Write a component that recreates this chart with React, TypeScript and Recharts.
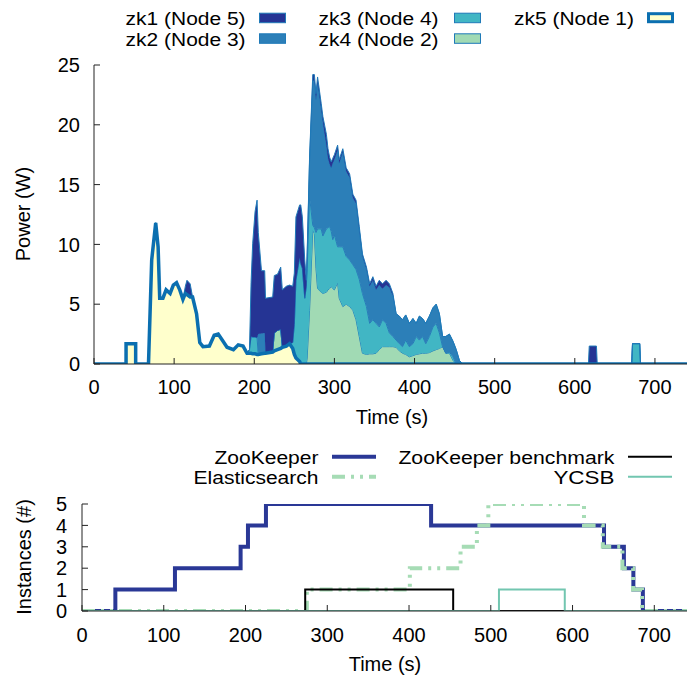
import React from 'react';
import { ComposedChart, Area, Line, LineChart, XAxis, YAxis, Legend } from 'recharts';

const FONT = '"Liberation Sans", Arial, Helvetica, sans-serif';

// ---------- Top panel: power per ZooKeeper node (stacked) ----------
const timeTicks = [0, 100, 200, 300, 400, 500, 600, 700];
const powerTicks = [0, 5, 10, 15, 20, 25];

const powerTime = [
  0, 40, 40, 52, 52, 68, 72, 77, 80, 82,
  86, 90, 95, 99, 103, 107, 111, 114, 116, 120,
  123, 128, 132, 136, 144, 150, 155, 160, 166, 174,
  180, 186, 191, 194, 196, 198, 201, 203.5, 205, 209,
  213, 214, 223, 225, 229, 233, 235, 240, 244, 248,
  250, 252, 256.6, 258, 260, 263, 265, 266, 269, 273,
  275, 277, 279, 283.5, 285.6, 290, 292, 294, 296, 298,
  300, 304, 306, 310.5, 314.7, 319, 323, 327, 331, 335,
  340, 344, 348, 352, 356, 360, 364.5, 368.6, 373, 377,
  381, 385, 389, 393.5, 398, 402, 406, 410, 414, 418.5,
  423, 427, 431, 435, 439, 443.5, 448, 452, 456, 460,
  617, 618, 627, 628, 671, 672, 681, 682, 740,
];

const zk5Power = [
  0, 0, 1.7, 1.7, 0, 0, 8.7, 11.8, 9.8, 5.5,
  5.5, 6.2, 5.9, 6.6, 6.8, 6.2, 5.4, 5.9, 5.8, 5.6,
  5.6, 4.2, 1.8, 1.45, 1.5, 2.4, 2.5, 2.0, 1.4, 1.2,
  1.6, 1.5, 0.9, 0.9, 0.9, 0.85, 0.85, 0.8, 0.8, 0.85,
  0.9, 0.9, 1.0, 1.1, 1.2, 1.3, 1.4, 1.5, 1.7, 1.3,
  0.8, 0.5, 0.2, 0, 0, 0, 0, 0, 0, 0,
  0, 0, 0, 0, 0, 0, 0, 0, 0, 0,
  0, 0, 0, 0, 0, 0, 0, 0, 0, 0,
  0, 0, 0, 0, 0, 0, 0, 0, 0, 0,
  0, 0, 0, 0, 0, 0, 0, 0, 0, 0,
  0, 0, 0, 0, 0, 0, 0, 0, 0, 0,
  0, 0, 0, 0, 0, 0, 0, 0, 0,
];

const zk4Power = [
  0, 0, 0, 0, 0, 0, 0, 0, 0, 0,
  0, 0, 0, 0, 0, 0, 0, 0, 0, 0,
  0, 0, 0, 0, 0, 0, 0, 0, 0, 0,
  0, 0, 0, 0, 0, 0, 0, 0, 0, 0,
  0, 0, 0, 1.5, 1.6, 1.6, 0, 0, 0, 0,
  0, 0, 0, 0, 0, 0, 0, 0.5, 4.5, 11.2,
  10.9, 8.0, 6.3, 6.0, 5.9, 6.0, 6.2, 6.3, 6.5, 6.3,
  6.2, 6.8, 5.5, 4.8, 5.0, 4.8, 4.5, 3.7, 2.3, 0.9,
  0.8, 0.85, 0.85, 0.9, 1.2, 1.45, 1.45, 1.45, 1.45, 1.4,
  1.1, 0.9, 0.8, 0.6, 0.7, 0.8, 0.85, 0.9, 0.9, 0.95,
  1.1, 1.2, 1.3, 1.45, 0.9, 0.9, 0.3, 0, 0, 0,
  0, 0, 0, 0, 0, 0, 0, 0, 0,
];

const zk3Power = [
  0, 0, 0, 0, 0, 0, 0, 0, 0, 0,
  0, 0, 0, 0, 0, 0, 0, 0, 0, 0,
  0, 0, 0, 0, 0, 0, 0, 0, 0, 0,
  0, 0, 0, 0.3, 1.4, 1.4, 1.4, 1.4, 0, 0,
  0, 0, 0, 0, 0, 0, 0, 0, 0, 0.5,
  2.5, 6.5, 8.7, 8.4, 8.0, 5.5, 6.5, 7.5, 9.5, 0.4,
  0.5, 3.0, 5.0, 5.3, 4.8, 5.3, 5.2, 5.2, 4.6, 4.1,
  4.6, 3.0, 4.3, 5.0, 4.0, 3.9, 3.8, 4.2, 4.8, 5.0,
  4.0, 2.55, 2.85, 2.5, 1.9, 2.25, 1.95, 1.15, 0.85, 0.6,
  0.6, 0.55, 1.2, 0.85, 1.0, 1.5, 1.15, 1.4, 0.8, 1.35,
  2.0, 2.2, 1.3, 0, 0, 0.1, 0.3, 0, 0, 0,
  0, 0, 0, 0, 0, 1.7, 1.7, 0, 0,
];

const zk2Power = [
  0, 0, 0, 0, 0, 0, 0, 0, 0, 0,
  0, 0, 0, 0, 0, 0, 0, 0, 0, 0,
  0, 0, 0, 0, 0, 0, 0, 0, 0, 0,
  0, 0, 0, 0, 0, 0, 0, 0, 1.7, 1.7,
  1.7, 0, 0, 0, 0, 0, 0, 0, 0, 0,
  0, 0, 0, 0, 0, 0, 0, 1.0, 3.0, 12.1,
  12.3, 11.1, 12.2, 10.0, 9.5, 7.0, 5.8, 5.2, 5.3, 6.4,
  6.3, 8.1, 7.0, 7.9, 7.1, 6.9, 5.6, 5.5, 4.1, 3.1,
  3.1, 3.1, 3.3, 2.8, 3.5, 2.6, 3.2, 3.8, 3.4, 2.2,
  2.3, 2.25, 2.1, 1.95, 2.1, 1.1, 2.0, 1.5, 1.7, 1.7,
  1.6, 1.6, 1.6, 0.85, 1.4, 1.5, 1.3, 1.2, 0.3, 0,
  0, 0, 0, 0, 0, 0, 0, 0, 0,
];

const zk1Power = [
  0, 0, 0, 0, 0, 0, 0, 0, 0, 0,
  0, 0, 0, 0, 0, 0, 0, 0.6, 1.2, 1.1,
  0, 0, 0, 0, 0, 0, 0, 0, 0, 0,
  0, 0, 0, 0, 4.5, 7.8, 10.5, 11.5, 8.5, 5.25,
  5.2, 4.6, 4.6, 4.8, 4.7, 5.2, 4.8, 5.0, 4.9, 4.7,
  4.3, 5.3, 4.4, 4.9, 4.3, 3.2, 0.5, 0.3, 0.3, 0.5,
  0.5, 0.5, 0.5, 0.5, 0.5, 0.9, 0.8, 0.6, 0.5, 0.4,
  0.4, 0.4, 0.3, 0.3, 0.3, 0.3, 0.3, 0.3, 0.3, 0.2,
  0.2, 0.2, 0.3, 0.3, 0.4, 0.4, 0.4, 0.3, 0.2, 0,
  0, 0, 0, 0, 0, 0, 0, 0, 0, 0,
  0, 0, 0, 0, 0, 0, 0, 0, 0, 0,
  0, 1.5, 1.5, 0, 0, 0, 0, 0, 0,
];

const powerData = powerTime.map((t, i) => ({
  t,
  zk5: zk5Power[i],
  zk4: zk4Power[i],
  zk3: zk3Power[i],
  zk2: zk2Power[i],
  zk1: zk1Power[i],
}));

const OUTLINE = '#1f7ab8';
const ZK5_LINE = '#0b6fb0';
const AXIS = '#222';

// stacking order: bottom first
const powerSeries = [
  { key: 'zk5', name: 'zk5 (Node 1)', fill: '#ffffcc' },
  { key: 'zk4', name: 'zk4 (Node 2)', fill: '#a1dab4' },
  { key: 'zk3', name: 'zk3 (Node 4)', fill: '#41b6c4' },
  { key: 'zk2', name: 'zk2 (Node 3)', fill: '#2c7fb8' },
  { key: 'zk1', name: 'zk1 (Node 5)', fill: '#253494' },
];

const powerLegendColumns = [
  ['zk1', 'zk2'],
  ['zk3', 'zk4'],
  ['zk5'],
];

// ---------- Bottom panel: instances ----------
const instanceTicks = [0, 1, 2, 3, 4, 5];

const zooKeeperTime = [0, 40.8, 113.7, 194, 203, 225, 427, 638.5, 662.8, 674.4, 686, 740];
const zooKeeperCount = [0, 1, 2, 3, 4, 5, 4, 3, 2, 1, 0, 0];

const elasticTime = [0, 275, 401, 463, 483, 497, 614, 637, 661, 674, 685, 740];
const elasticCount = [0, 1, 2, 3, 4, 5, 4, 3, 2, 1, 0, 0];

const benchTime = [0, 273, 454, 740];
const benchCount = [0, 1, 0, 0];

const ycsbTime = [0, 510, 590.5, 740];
const ycsbCount = [0, 1, 0, 0];

const toSteps = (ts: number[], vs: number[]) => ts.map((t, i) => ({ t, v: vs[i] }));

const instanceSeries = [
  { name: 'ZooKeeper', data: toSteps(zooKeeperTime, zooKeeperCount), stroke: '#2a3896', width: 4, dash: undefined as string | undefined },
  { name: 'Elasticsearch', data: toSteps(elasticTime, elasticCount), stroke: '#a6dcb5', width: 4, dash: '13 6 3 6 3 6' },
  { name: 'ZooKeeper benchmark', data: toSteps(benchTime, benchCount), stroke: '#000000', width: 2, dash: undefined },
  { name: 'YCSB', data: toSteps(ycsbTime, ycsbCount), stroke: '#72c6b0', width: 2, dash: undefined },
];

const instanceLegendColumns = [
  ['ZooKeeper', 'Elasticsearch'],
  ['ZooKeeper benchmark', 'YCSB'],
];

// rendered text widths in the reference legend
const instanceLegendWidths: Record<string, number> = {
  ZooKeeper: 104,
  Elasticsearch: 125,
  'ZooKeeper benchmark': 216,
  YCSB: 61,
};

// ---------- helpers ----------
const TICK_LEN = 6;

const makeBottomTick = (margin: number) => (p: any) => {
  const axisY = p.y - margin;
  return (
    <g>
      <line x1={p.x} x2={p.x} y1={axisY} y2={axisY - TICK_LEN} stroke={AXIS} strokeWidth={1} />
      <text x={p.x} y={p.y} dy="0.71em" textAnchor="middle" fontSize={20} fill="#000" fontFamily={FONT}>
        {p.payload.value}
      </text>
    </g>
  );
};

const topTick = (p: any) => (
  <line x1={p.x} x2={p.x} y1={p.y} y2={p.y + TICK_LEN} stroke={AXIS} strokeWidth={1} />
);

const makeLeftTick = (margin: number) => (p: any) => {
  const axisX = p.x + margin;
  return (
    <g>
      <line x1={axisX} x2={axisX + TICK_LEN} y1={p.y} y2={p.y} stroke={AXIS} strokeWidth={1} />
      <text x={p.x} y={p.y} dy="0.355em" textAnchor="end" fontSize={20} fill="#000" fontFamily={FONT}>
        {p.payload.value}
      </text>
    </g>
  );
};

const hTitle = (x: number, y: number, text: string) => () => (
  <text x={x} y={y} textAnchor="middle" fontSize={20} fill="#000" fontFamily={FONT}>
    {text}
  </text>
);

const vTitle = (x: number, y: number, text: string) => () => (
  <text
    x={x}
    y={y}
    transform={`rotate(-90 ${x} ${y})`}
    textAnchor="middle"
    fontSize={20}
    fill="#000"
    fontFamily={FONT}
  >
    {text}
  </text>
);

const PowerLegend = () => {
  const colTextEnd = [245.6, 438.6, 634];
  const colSwatch = [259, 454, 647];
  const rowBase = [25, 45.5];
  const rowSwTop = [12.7, 33.3];
  return (
    <svg width={687} height={55} style={{ display: 'block' }}>
      {powerLegendColumns.map((col, ci) =>
        col.map((key, ri) => {
          const s = powerSeries.find((p) => p.key === key)!;
          const isZk5 = key === 'zk5';
          return (
            <g key={key}>
              <text
                x={colTextEnd[ci]}
                y={rowBase[ri]}
                textAnchor="end"
                fontSize={18}
                textLength={120}
                lengthAdjust="spacingAndGlyphs"
                fill="#000"
                fontFamily={FONT}
              >
                {s.name}
              </text>
              <rect
                x={colSwatch[ci] + (isZk5 ? 1.5 : 0.5)}
                y={rowSwTop[ri] + (isZk5 ? 1 : 0.5)}
                width={isZk5 ? 24 : 26}
                height={isZk5 ? 8 : 9.5}
                fill={s.fill}
                stroke={isZk5 ? ZK5_LINE : OUTLINE}
                strokeWidth={isZk5 ? 3 : 1}
              />
            </g>
          );
        })
      )}
    </svg>
  );
};

const InstanceLegend = () => {
  const colTextEnd = [318.5, 614.4];
  const colLine = [332, 628];
  const rowBase = [23.5, 43.5];
  const rowLine = [16.7, 36.7];
  return (
    <svg width={687} height={50} style={{ display: 'block' }}>
      {instanceLegendColumns.map((col, ci) =>
        col.map((name, ri) => {
          const s = instanceSeries.find((p) => p.name === name)!;
          return (
            <g key={name}>
              <text
                x={colTextEnd[ci]}
                y={rowBase[ri]}
                textAnchor="end"
                fontSize={17.5}
                textLength={instanceLegendWidths[name]}
                lengthAdjust="spacingAndGlyphs"
                fill="#000"
                fontFamily={FONT}
              >
                {s.name}
              </text>
              <line
                x1={colLine[ci]}
                x2={colLine[ci] + 44}
                y1={rowLine[ri]}
                y2={rowLine[ri]}
                stroke={s.stroke}
                strokeWidth={s.width}
                strokeDasharray={s.dash}
              />
            </g>
          );
        })
      )}
    </svg>
  );
};

export default function App() {
  return (
    <div
      style={{
        position: 'absolute',
        left: 0,
        top: 0,
        width: 687,
        height: 679,
        background: '#fff',
        fontFamily: FONT,
        overflow: 'hidden',
      }}
    >
      <div style={{ position: 'absolute', left: 0, top: 0 }}>
        <ComposedChart width={687} height={440} data={powerData} margin={{ top: 65, right: 0, left: 0, bottom: 0 }}>
          <XAxis
            dataKey="t"
            type="number"
            domain={[0, 740]}
            ticks={timeTicks}
            interval={0}
            allowDataOverflow
            height={76}
            tickSize={0}
            tickLine={false}
            tickMargin={16}
            tick={makeBottomTick(16)}
            stroke={AXIS}
            label={hTitle(392, 424, 'Time (s)')}
          />
          <XAxis
            xAxisId="top"
            orientation="top"
            dataKey="t"
            type="number"
            domain={[0, 740]}
            ticks={timeTicks}
            interval={0}
            allowDataOverflow
            height={0}
            tickSize={0}
            tickLine={false}
            tickMargin={0}
            tick={topTick}
            stroke={AXIS}
          />
          <YAxis
            type="number"
            domain={[0, 25]}
            ticks={powerTicks}
            interval={0}
            allowDataOverflow
            width={94}
            tickSize={0}
            tickLine={false}
            tickMargin={14}
            tick={makeLeftTick(14)}
            stroke={AXIS}
            label={vTitle(30, 214, 'Power (W)')}
          />
          {powerSeries.map((s) => (
            <Area
              key={s.key}
              type="linear"
              dataKey={s.key}
              name={s.name}
              stackId="power"
              fill={s.fill}
              fillOpacity={1}
              stroke={s.key === 'zk5' ? 'none' : OUTLINE}
              strokeWidth={1}
              dot={false}
              activeDot={false}
              isAnimationActive={false}
            />
          ))}
          <Line
            type="linear"
            dataKey="zk5"
            stroke={ZK5_LINE}
            strokeWidth={3.5}
            dot={false}
            activeDot={false}
            legendType="none"
            isAnimationActive={false}
          />
          <Legend
            layout="horizontal"
            verticalAlign="middle"
            align="center"
            content={PowerLegend}
            wrapperStyle={{ position: 'absolute', left: 0, top: 0, width: 687, height: 55 }}
          />
        </ComposedChart>
      </div>

      <div style={{ position: 'absolute', left: 0, top: 440 }}>
        <LineChart width={687} height={239} margin={{ top: 64, right: 0, left: 0, bottom: 0 }}>
          <XAxis
            dataKey="t"
            type="number"
            domain={[0, 740]}
            ticks={timeTicks}
            interval={0}
            allowDataOverflow
            height={68}
            tickSize={0}
            tickLine={false}
            tickMargin={17}
            tick={makeBottomTick(17)}
            stroke={AXIS}
            label={hTitle(385, 231, 'Time (s)')}
          />
          <XAxis
            xAxisId="top"
            orientation="top"
            dataKey="t"
            type="number"
            domain={[0, 740]}
            ticks={timeTicks}
            interval={0}
            allowDataOverflow
            height={0}
            tickSize={0}
            tickLine={false}
            tickMargin={0}
            tick={topTick}
            stroke={AXIS}
          />
          <YAxis
            type="number"
            domain={[0, 5]}
            ticks={instanceTicks}
            interval={0}
            allowDataOverflow
            width={82}
            tickSize={0}
            tickLine={false}
            tickMargin={15}
            tick={makeLeftTick(15)}
            stroke={AXIS}
            label={vTitle(31, 117, 'Instances (#)')}
          />
          {instanceSeries.map((s) => (
            <Line
              key={s.name}
              data={s.data}
              dataKey="v"
              name={s.name}
              type="stepAfter"
              stroke={s.stroke}
              strokeWidth={s.width}
              strokeDasharray={s.dash}
              dot={false}
              activeDot={false}
              isAnimationActive={false}
            />
          ))}
          <Legend
            layout="horizontal"
            verticalAlign="middle"
            align="center"
            content={InstanceLegend}
            wrapperStyle={{ position: 'absolute', left: 0, top: 0, width: 687, height: 50 }}
          />
        </LineChart>
      </div>
    </div>
  );
}
